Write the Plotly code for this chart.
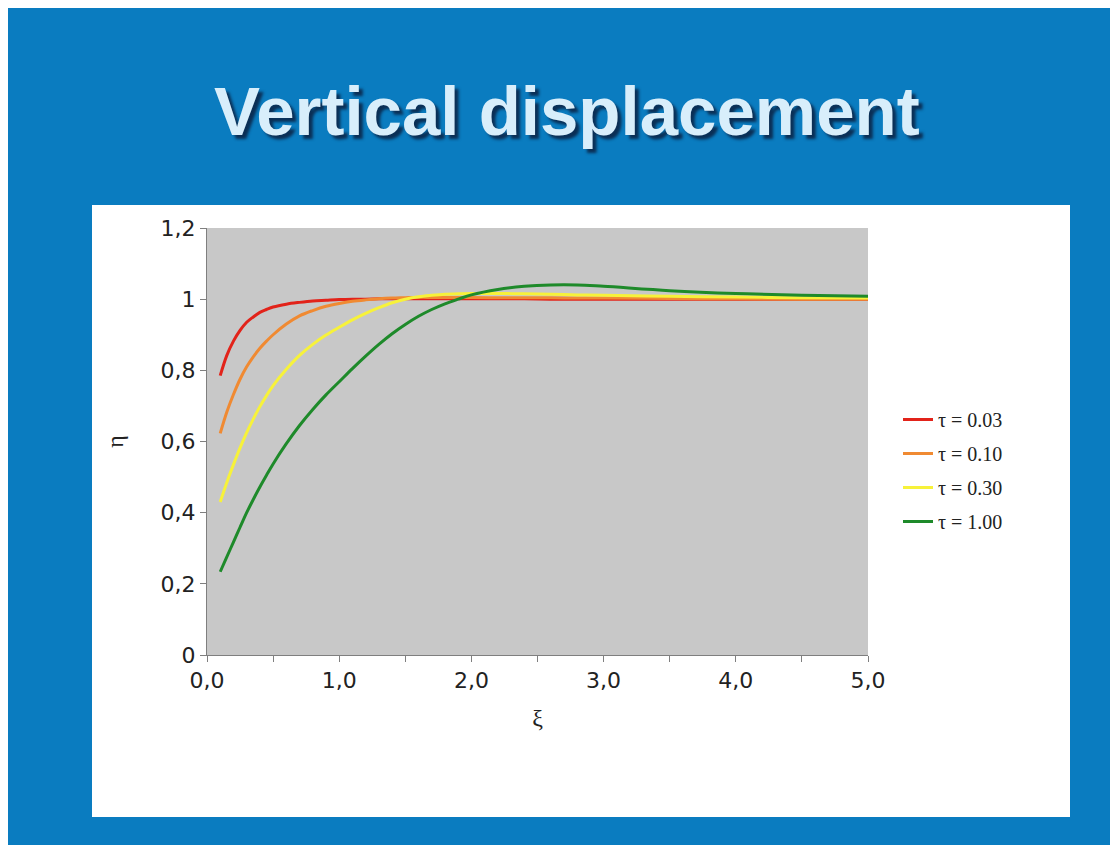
import plotly.graph_objects as go

# ---- data ----
xi = [0.1, 0.15, 0.2, 0.25, 0.3, 0.35, 0.4, 0.45, 0.5,
      0.6, 0.7, 0.8, 0.9, 1.0, 1.1, 1.2, 1.3, 1.4, 1.5, 1.6, 1.7, 1.8, 1.9, 2.0,
      2.2, 2.4, 2.6, 2.8, 3.0, 3.5, 4.0, 4.5, 5.0]

eta_003 = [0.785, 0.842, 0.882, 0.912, 0.935, 0.950, 0.963, 0.971, 0.978,
           0.986, 0.991, 0.995, 0.997, 0.999, 1.000, 1.000, 1.001, 1.001, 1.001, 1.001, 1.001, 1.001, 1.001, 1.001,
           1.001, 1.001, 1.000, 1.000, 1.000, 1.000, 1.000, 1.000, 1.000]
eta_010 = [0.623, 0.683, 0.732, 0.775, 0.810, 0.838, 0.862, 0.882, 0.900,
           0.930, 0.953, 0.968, 0.980, 0.988, 0.994, 0.998, 1.001, 1.003, 1.004, 1.005, 1.005, 1.005, 1.005, 1.005,
           1.004, 1.004, 1.004, 1.003, 1.003, 1.002, 1.001, 1.000, 1.000]
eta_030 = [0.430, 0.485, 0.535, 0.582, 0.625, 0.663, 0.698, 0.729, 0.757,
           0.803, 0.842, 0.873, 0.899, 0.921, 0.942, 0.960, 0.976, 0.990, 1.000, 1.007, 1.011, 1.014, 1.015, 1.016,
           1.016, 1.015, 1.014, 1.012, 1.011, 1.008, 1.006, 1.004, 1.003]
eta_100 = [0.234, 0.276, 0.317, 0.359, 0.400, 0.437, 0.472, 0.505, 0.537,
           0.594, 0.645, 0.690, 0.731, 0.768, 0.805, 0.840, 0.873, 0.903, 0.929, 0.952, 0.971, 0.987, 1.000, 1.012,
           1.027, 1.036, 1.040, 1.040, 1.036, 1.024, 1.016, 1.011, 1.008]

series_names = ["τ = 0.03", "τ = 0.10", "τ = 0.30", "τ = 1.00"]
series_values = [eta_003, eta_010, eta_030, eta_100]
series_colors = ["#E2231A", "#F08A32", "#F7F23A", "#1E8A2A"]

x_tickvals = [0, 1, 2, 3, 4, 5]
x_ticktext = ["0,0", "1,0", "2,0", "3,0", "4,0", "5,0"]
y_tickvals = [0, 0.2, 0.4, 0.6, 0.8, 1.0, 1.2]
y_ticktext = ["0", "0,2", "0,4", "0,6", "0,8", "1", "1,2"]

title_text = "Vertical displacement"

# ---- layout geometry (figure pixels; page adds an 8px body margin) ----
W, H = 1118, 845
OFF = 8
L, R, T, B = 207 - OFF, 868 - OFF, 228 - OFF, 655 - OFF  # plot area


def px_x(p):
    return (p - OFF - L) / (R - L)


def px_y(p):
    return (B - (p - OFF)) / (B - T)


fig = go.Figure()
for name, vals, col in zip(series_names, series_values, series_colors):
    fig.add_trace(go.Scatter(
        x=xi, y=vals, mode="lines", name=name, legendgroup=name,
        line=dict(color=col, width=3, shape="spline", smoothing=1.0),
    ))

shapes = [
    # white chart panel
    dict(type="rect", xref="paper", yref="paper", layer="below",
         x0=px_x(92), x1=px_x(1070), y0=px_y(817), y1=px_y(205),
         fillcolor="#FFFFFF", line=dict(width=0)),
    # grey plot area
    dict(type="rect", xref="paper", yref="paper", layer="below",
         x0=0, x1=1, y0=0, y1=1,
         fillcolor="#C8C8C8", line=dict(width=0)),
]

fig.update_layout(
    width=W, height=H,
    margin=dict(l=L, r=W - R, t=T, b=H - B, pad=0),
    paper_bgcolor="#0A7CC0",
    plot_bgcolor="#C8C8C8",
    shapes=shapes,
    showlegend=True,
    legend=dict(
        x=px_x(898), y=px_y(400), xanchor="left", yanchor="top",
        bgcolor="rgba(0,0,0,0)", borderwidth=0,
        font=dict(family="Liberation Serif", size=20, color="#222222"),
        tracegroupgap=5, itemwidth=30,
    ),
    annotations=[
        dict(text=title_text, xref="paper", yref="paper",
             x=px_x(567), y=px_y(112), xanchor="center", yanchor="middle",
             showarrow=False,
             font=dict(family="Liberation Sans", size=69, color="#D8EEFB",
                       weight="bold", shadow="4px 4px 3px #0B2F55")),
    ],
    xaxis=dict(
        range=[0, 5], tickvals=x_tickvals, ticktext=x_ticktext,
        showgrid=False, zeroline=False, showline=True, linecolor="#7F7F7F",
        linewidth=1, ticks="outside", ticklen=6, tickcolor="#7F7F7F",
        minor=dict(dtick=0.5, ticks="outside", ticklen=6, tickcolor="#7F7F7F", showgrid=False),
        tickfont=dict(family="DejaVu Sans", size=22, color="#222222"),
        title=dict(text="ξ", font=dict(family="Liberation Serif", size=24, color="#222222"),
                   standoff=16),
    ),
    yaxis=dict(
        range=[0, 1.2], tickvals=y_tickvals, ticktext=y_ticktext,
        showgrid=False, zeroline=False, showline=True, linecolor="#7F7F7F",
        linewidth=1, ticks="outside", ticklen=6, tickcolor="#7F7F7F",
        tickfont=dict(family="DejaVu Sans", size=22, color="#222222"),
        title=dict(text="η", font=dict(family="Liberation Serif", size=24, color="#222222"),
                   standoff=30),
    ),
)

fig.write_html("out.html")
